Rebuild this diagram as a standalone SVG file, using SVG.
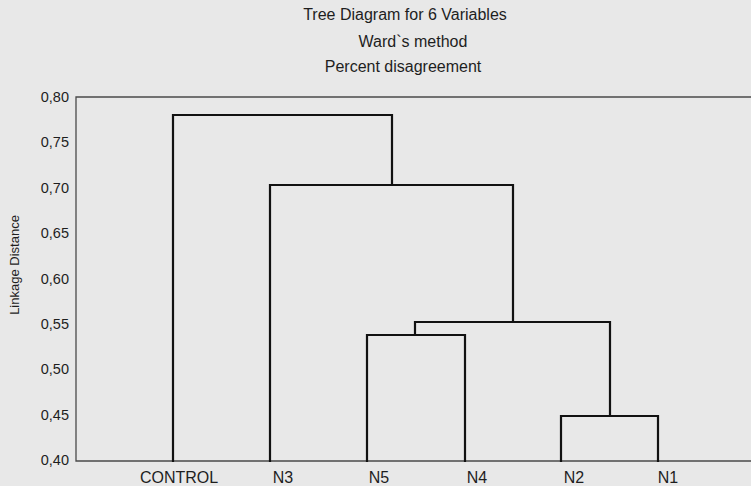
<svg xmlns="http://www.w3.org/2000/svg" width="751" height="486" viewBox="0 0 751 486">
<style>
text{font-family:"Liberation Sans",Arial,sans-serif;fill:#1e1e1e}
.t{font-size:16px;text-anchor:middle}
.tick{font-size:14.5px;text-anchor:end}
.leaf{font-size:16px;text-anchor:middle}
.ax{font-size:13px;text-anchor:middle}
.frame{fill:none;stroke:#4a4a4a;stroke-width:1.3}
.link{fill:none;stroke:#111;stroke-width:2.2;stroke-linejoin:miter;stroke-linecap:square}
</style>
<rect width="751" height="486" fill="#e8e8e8"/>
<g id="title">
<text class="t" x="405" y="20">Tree Diagram for 6 Variables</text>
<text class="t" x="413" y="47">Ward`s method</text>
<text class="t" x="403" y="72">Percent disagreement</text>
</g>
<g id="axes">
<path class="frame" d="M751,97 H76 V461 H751"/>
<text class="tick" x="69" y="102">0,80</text>
<text class="tick" x="69" y="147">0,75</text>
<text class="tick" x="69" y="193">0,70</text>
<text class="tick" x="69" y="238">0,65</text>
<text class="tick" x="69" y="284">0,60</text>
<text class="tick" x="69" y="329">0,55</text>
<text class="tick" x="69" y="374">0,50</text>
<text class="tick" x="69" y="420">0,45</text>
<text class="tick" x="69" y="465">0,40</text>
<text class="ax" transform="translate(19,265) rotate(-90)">Linkage Distance</text>
</g>
<g id="node-CONTROL"><text class="leaf" x="179" y="483">CONTROL</text></g>
<g id="node-N3"><text class="leaf" x="283" y="483">N3</text></g>
<g id="node-N5"><text class="leaf" x="379" y="483">N5</text></g>
<g id="node-N4"><text class="leaf" x="477" y="483">N4</text></g>
<g id="node-N2"><text class="leaf" x="574" y="483">N2</text></g>
<g id="node-N1"><text class="leaf" x="668" y="483">N1</text></g>
<g id="connectors">
<path class="link" d="M173,461 V115 H392 V185"/>
<path class="link" d="M270,461 V185 H513 V322"/>
<path class="link" d="M415,335 V322 H610 V416"/>
<path class="link" d="M367,461 V335 H465 V461"/>
<path class="link" d="M561,461 V416 H658 V461"/>
</g>
</svg>
